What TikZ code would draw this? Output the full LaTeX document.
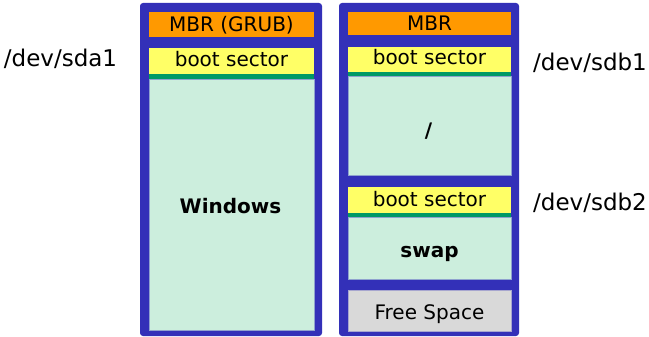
\documentclass[tikz,border=0pt]{standalone}
\usepackage{fontspec}
\setmainfont{DejaVu Sans}
\definecolor{diskblue}{HTML}{3330B8}
\definecolor{mbrorange}{HTML}{FF9900}
\definecolor{bootyellow}{HTML}{FFFF66}
\definecolor{sepgreen}{HTML}{009966}
\definecolor{partgreen}{HTML}{CCEEDD}
\definecolor{freegray}{HTML}{D9D9D9}
\begin{document}
\begin{tikzpicture}[x=1pt,y=-1pt,
  disk/.style={fill=diskblue,rounded corners=3pt},
  mbr/.style={fill=mbrorange},
  boot/.style={fill=bootyellow},
  sep/.style={fill=sepgreen},
  part/.style={fill=partgreen,draw=diskblue!40!partgreen,line width=0.6pt},
  free/.style={fill=freegray,draw=diskblue!30!freegray,line width=0.6pt},
  boxtext/.style={anchor=base,inner sep=0pt,font=\fontsize{20}{22}\selectfont,text=black},
  bigtext/.style={anchor=base,inner sep=0pt,font=\fontsize{20}{22}\selectfont\bfseries,text=black},
  devlabel/.style={anchor=base,inner sep=0pt,font=\fontsize{23}{26}\selectfont,text=black}]
\useasboundingbox (0,0) rectangle (649,337);
% left disk
\path[disk] (140,3) rectangle (322,336);
\path[mbr] (149,12) rectangle (314,37);
\path[boot] (149,48) rectangle (314,74);
\path[sep] (149,74) rectangle (314,79);
\path[part] (149,79) rectangle (314,330);
\node[boxtext] (mbrA) at (231.5,32) {MBR (GRUB)};
\node[boxtext] (bootA) at (231.5,67) {boot sector};
\node[bigtext] (win) at (230.5,213) {Windows};
% right disk
\path[disk] (339,3) rectangle (519,336);
\path[mbr] (348,12) rectangle (511,35);
\path[boot] (348,47) rectangle (511,72);
\path[sep] (348,72) rectangle (511,76);
\path[part] (348,76) rectangle (511,175);
\path[boot] (348,187) rectangle (511,213);
\path[sep] (348,213) rectangle (511,217);
\path[part] (348,217) rectangle (511,279);
\path[free] (348,290) rectangle (511,331);
\node[boxtext] (mbrB) at (429.5,31) {MBR};
\node[boxtext] (bootB1) at (429.5,65) {boot sector};
\node[bigtext] (root) at (428.5,137.5) {/};
\node[boxtext] (bootB2) at (429.5,206) {boot sector};
\node[bigtext] (swap) at (429.5,257) {swap};
\node[boxtext] (freesp) at (429.5,319) {Free Space};
% labels
\node[devlabel] (sda1) at (60.5,67) {/dev/sda1};
\node[devlabel] (sdb1) at (590,71) {/dev/sdb1};
\node[devlabel] (sdb2) at (590,211) {/dev/sdb2};
\end{tikzpicture}
\end{document}
